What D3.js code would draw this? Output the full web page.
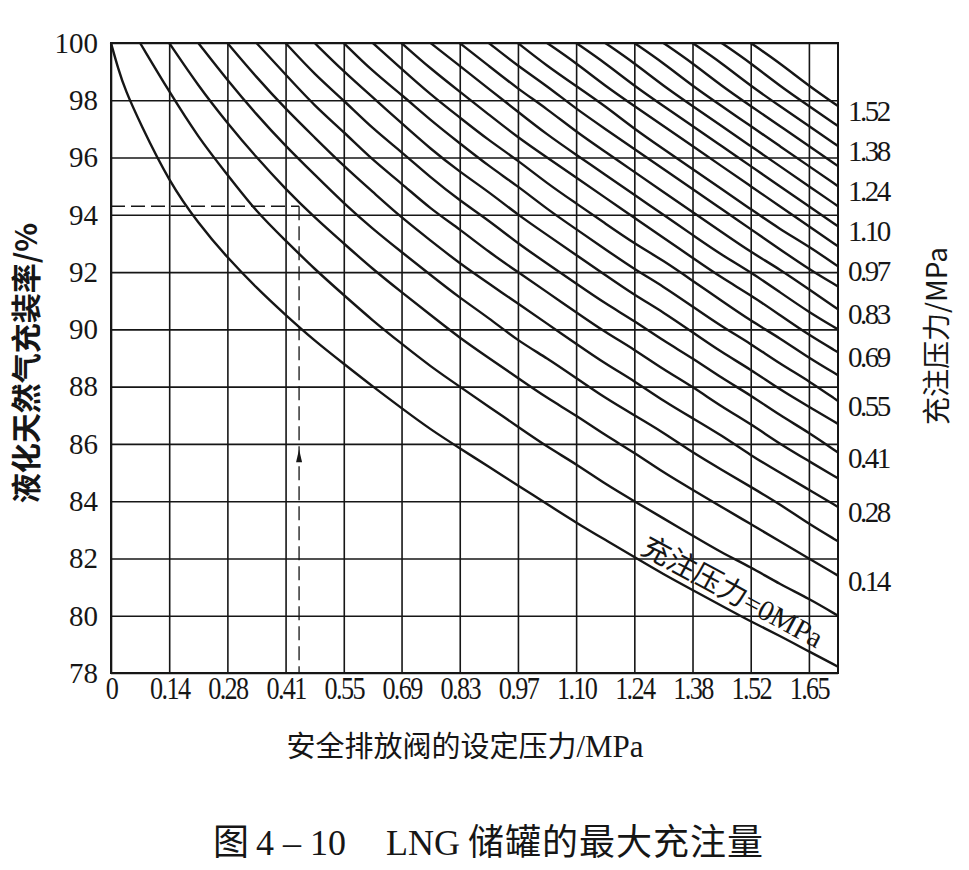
<!DOCTYPE html>
<html>
<head>
<meta charset="utf-8">
<script src="https://cdn.jsdelivr.net/npm/d3@7"></script>
<style>
  body { margin: 0; background: #fff; }
  svg { display: block; }
</style>
</head>
<body>
<svg id="chart" width="969" height="870"></svg>
<script>
/*************************
 *  data
 *************************/

// relief-valve setting grid, MPa (one step = 10 psi)
const reliefP = [0, 0.069, 0.138, 0.207, 0.276, 0.345, 0.414, 0.483, 0.552, 0.621, 0.689, 0.758, 0.827,
    0.896, 0.965, 1.034, 1.103, 1.172, 1.241, 1.310, 1.379, 1.448, 1.517, 1.586, 1.655, 1.724];

// fill pressure = 0 MPa curve (a couple of extra points near the start)
const zeroCurveP = [0, 0.017, 0.034, 0.069, 0.138, 0.207, 0.276, 0.345, 0.414, 0.483, 0.552, 0.621, 0.689, 0.758,
    0.827, 0.896, 0.965, 1.034, 1.103, 1.172, 1.241, 1.310, 1.379, 1.448, 1.517, 1.586, 1.655, 1.724];
const zeroCurveF = [100, 99.1, 98.35, 97.2, 95.15, 93.7, 92.5, 91.45, 90.5, 89.6, 88.8, 88.0, 87.25, 86.5,
    85.85, 85.2, 84.55, 83.9, 83.25, 82.65, 82.05, 81.45, 80.9, 80.35, 79.8, 79.3, 78.75, 78.22];

// curve k (k = 1..22) starts at reliefP[k], its fill pressure; values are % on the reliefP grid
const fillCurveF = [
    [100, 98.3, 96.7, 95.4, 94.1, 93.1, 92.1, 91.2, 90.3, 89.5, 88.7, 88.0, 87.3, 86.6, 85.9, 85.3, 84.6, 84.0, 83.4, 82.8, 82.2, 81.7, 81.1, 80.6, 80.0], // 0.07
    [100, 98.5, 97.2, 96.0, 94.9, 93.9, 93.0, 92.1, 91.3, 90.5, 89.7, 89.0, 88.3, 87.6, 87.0, 86.3, 85.7, 85.0, 84.4, 83.8, 83.2, 82.6, 82.0, 81.4],       // 0.14
    [100, 98.7, 97.5, 96.4, 95.4, 94.4, 93.5, 92.7, 91.9, 91.1, 90.4, 89.6, 89.0, 88.3, 87.6, 87.0, 86.4, 85.7, 85.1, 84.5, 83.9, 83.2, 82.6],
    [100, 98.8, 97.7, 96.7, 95.7, 94.8, 93.9, 93.1, 92.3, 91.6, 90.9, 90.2, 89.5, 88.8, 88.2, 87.5, 86.9, 86.3, 85.6, 85.0, 84.4, 83.8],             // 0.28
    [100, 98.9, 97.8, 96.9, 95.9, 95.1, 94.2, 93.5, 92.7, 92.0, 91.3, 90.6, 89.9, 89.3, 88.6, 88.0, 87.3, 86.7, 86.0, 85.4, 84.8],
    [100, 98.9, 98.0, 97.0, 96.2, 95.3, 94.5, 93.8, 93.0, 92.3, 91.6, 90.9, 90.3, 89.6, 89.0, 88.3, 87.7, 87.0, 86.4, 85.7],                         // 0.41
    [100, 99.0, 98.1, 97.2, 96.3, 95.5, 94.8, 94.0, 93.3, 92.6, 91.9, 91.2, 90.6, 89.9, 89.2, 88.6, 87.9, 87.3, 86.7],
    [100, 99.0, 98.2, 97.3, 96.5, 95.7, 95.0, 94.2, 93.5, 92.8, 92.1, 91.5, 90.8, 90.1, 89.5, 88.8, 88.2, 87.5],                                     // 0.55
    [100, 99.1, 98.2, 97.4, 96.6, 95.9, 95.1, 94.4, 93.7, 93.0, 92.4, 91.7, 91.0, 90.3, 89.7, 89.0, 88.4],
    [100, 99.1, 98.3, 97.5, 96.7, 96.0, 95.3, 94.6, 93.9, 93.2, 92.5, 91.8, 91.2, 90.5, 89.8, 89.2],                                                 // 0.69
    [100, 99.2, 98.4, 97.6, 96.8, 96.1, 95.4, 94.7, 94.0, 93.3, 92.6, 92.0, 91.3, 90.6, 90.0],
    [100, 99.2, 98.4, 97.7, 96.9, 96.2, 95.5, 94.8, 94.1, 93.4, 92.7, 92.1, 91.4, 90.7],                                                             // 0.83
    [100, 99.2, 98.5, 97.7, 97.0, 96.3, 95.6, 94.9, 94.2, 93.5, 92.8, 92.1, 91.5],
    [100, 99.2, 98.5, 97.8, 97.0, 96.3, 95.6, 94.9, 94.2, 93.5, 92.9, 92.2],                                                                         // 0.97
    [100, 99.3, 98.5, 97.8, 97.1, 96.4, 95.7, 95.0, 94.3, 93.6, 92.9],
    [100, 99.3, 98.5, 97.8, 97.1, 96.4, 95.7, 95.0, 94.3, 93.6],                                                                                     // 1.10
    [100, 99.3, 98.5, 97.8, 97.1, 96.4, 95.7, 95.0, 94.3],
    [100, 99.3, 98.5, 97.8, 97.1, 96.4, 95.7, 95.0],                                                                                                 // 1.24
    [100, 99.3, 98.5, 97.8, 97.1, 96.4, 95.7],
    [100, 99.3, 98.5, 97.8, 97.1, 96.4],                                                                                                             // 1.38
    [100, 99.3, 98.5, 97.8, 97.1],
    [100, 99.3, 98.5, 97.8]                                                                                                                          // 1.52
];

const xTickValues = [0, 0.138, 0.276, 0.414, 0.552, 0.689, 0.827, 0.965, 1.103, 1.241, 1.379, 1.517, 1.655];
const xTickLabels = ["0", "0.14", "0.28", "0.41", "0.55", "0.69", "0.83", "0.97", "1.10", "1.24", "1.38", "1.52", "1.65"];
const yTickValues = [78, 80, 82, 84, 86, 88, 90, 92, 94, 96, 98, 100];

// right hand labels: which curve (k) and its fill pressure text
const fillLabelIndex = [2, 4, 6, 8, 10, 12, 14, 16, 18, 20, 22];
const fillLabels = ["0.14", "0.28", "0.41", "0.55", "0.69", "0.83", "0.97", "1.10", "1.24", "1.38", "1.52"];

// worked example (dashed guide)
const exampleRelief = 0.446;
const exampleFill = 94.3;
const exampleArrowF = 85.5;

/*************************
 *  scales
 *************************/
const svg = d3.select('#chart');
svg.append('rect').attr('width', 969).attr('height', 870).attr('fill', '#fff');

const x = d3.scaleLinear().domain([0, 1.724]).range([111, 838]);
const y = d3.scaleLinear().domain([78, 100]).range([673, 43]);

const ink = '#161616';
const serif = "'Liberation Serif', 'Times New Roman', serif";
const cjk = "'Noto Sans CJK SC', sans-serif";

/*************************
 *  grid + tick labels
 *************************/
svg.append('g')
    .attr('transform', `translate(0,${y(78)})`)
    .call(d3.axisBottom(x)
        .tickValues(xTickValues)
        .tickFormat((d, i) => xTickLabels[i])
        .tickSize(-(y(78) - y(100)))
        .tickPadding(3))
    .call(g => g.select('.domain').remove())
    .call(g => g.selectAll('line').attr('stroke', ink).attr('stroke-width', 1.6))
    .call(g => g.selectAll('text')
        .attr('font-family', serif)
        .attr('font-size', 32)
        .attr('letter-spacing', '-2px')
        .attr('transform', 'scale(0.82,1)')
        .attr('fill', ink))

svg.append('g')
    .attr('transform', `translate(${x(0)},0)`)
    .call(d3.axisLeft(y)
        .tickValues(yTickValues)
        .tickFormat(d3.format('d'))
        .tickSize(-(x(1.724) - x(0)))
        .tickPadding(13))
    .call(g => g.select('.domain').remove())
    .call(g => g.selectAll('line').attr('stroke', ink).attr('stroke-width', 1.6))
    .call(g => g.selectAll('text')
        .attr('font-family', serif)
        .attr('font-size', 29)
        .attr('fill', ink))

svg.append('rect')
    .attr('x', x(0))
    .attr('y', y(100))
    .attr('width', x(1.724) - x(0))
    .attr('height', y(78) - y(100))
    .attr('fill', 'none')
    .attr('stroke', ink)
    .attr('stroke-width', 2)

/*************************
 *  curves
 *************************/
const line = d3.line()
    .x(d => x(d[0]))
    .y(d => y(d[1]))
    .curve(d3.curveBasis)

let curves = [d3.zip(zeroCurveP, zeroCurveF)]
    .concat(fillCurveF.map((vals, j) => d3.zip(reliefP.slice(j + 1), vals)))

svg.append('g')
    .attr('id', 'curveG')
    .selectAll('.fillCurve')
    .data(curves)
    .join('path')
        .attr('class', 'fillCurve')
        .attr('d', line)
        .attr('fill', 'none')
        .attr('stroke', ink)
        .attr('stroke-width', 2.4)
        .attr('stroke-linejoin', 'round')

// right hand fill-pressure labels, next to the end of each labelled curve
svg.append('g')
    .selectAll('text')
    .data(fillLabelIndex)
    .join('text')
        .attr('x', x(1.724) + 10)
        .attr('y', k => y(fillCurveF[k - 1][fillCurveF[k - 1].length - 1]) + 5)
        .attr('dominant-baseline', 'central')
        .attr('font-family', serif)
        .attr('font-size', 29)
        .attr('letter-spacing', '-2.5px')
        .attr('fill', ink)
        .text((k, i) => fillLabels[i])

// label along the 0 MPa curve
let p0 = [x(zeroCurveP[20]), y(zeroCurveF[20])];
let p1 = [x(zeroCurveP[26]), y(zeroCurveF[26])];
let ang = Math.atan2(p1[1] - p0[1], p1[0] - p0[0]) * 180 / Math.PI;

svg.append('text')
    .attr('transform', `translate(${p0[0]},${p0[1]}) rotate(${ang})`)
    .attr('x', 2)
    .attr('y', -6)
    .attr('font-family', `${serif}, ${cjk}`)
    .attr('font-size', 29)
    .attr('fill', ink)
    .text('充注压力=0MPa')

/*************************
 *  dashed worked example
 *************************/
let exG = svg.append('g')
    .attr('stroke', ink)
    .attr('stroke-width', 1.3)
    .attr('stroke-dasharray', '14,6')
    .attr('fill', 'none')

exG.append('line')
    .attr('x1', x(0)).attr('x2', x(exampleRelief))
    .attr('y1', y(exampleFill)).attr('y2', y(exampleFill))
exG.append('line')
    .attr('x1', x(exampleRelief)).attr('x2', x(exampleRelief))
    .attr('y1', y(exampleFill)).attr('y2', y(78))

let ax = x(exampleRelief), ay = y(exampleArrowF);
svg.append('path')
    .attr('d', `M${ax},${ay - 9} L${ax - 3},${ay + 4} L${ax + 3},${ay + 4} Z`)
    .attr('fill', ink)

/*************************
 *  titles
 *************************/
svg.append('text')
    .attr('transform', 'translate(24,363) rotate(-90)')
    .attr('text-anchor', 'middle')
    .attr('dominant-baseline', 'central')
    .attr('font-family', cjk)
    .attr('font-weight', 700)
    .attr('font-size', 30)
    .attr('fill', ink)
    .text('液化天然气充装率/%')

svg.append('text')
    .attr('transform', 'translate(935,336) rotate(-90)')
    .attr('text-anchor', 'middle')
    .attr('dominant-baseline', 'central')
    .attr('font-family', cjk)
    .attr('font-size', 28)
    .attr('fill', ink)
    .text('充注压力/MPa')

let xTitle = svg.append('text')
    .attr('x', 465)
    .attr('y', 757)
    .attr('text-anchor', 'middle')
    .attr('fill', ink)
xTitle.append('tspan').attr('font-family', cjk).attr('font-size', 29).text('安全排放阀的设定压力')
xTitle.append('tspan').attr('font-family', serif).attr('font-size', 31).text('/MPa')

let caption = svg.append('text')
    .attr('y', 855)
    .attr('font-family', `${serif}, ${cjk}`)
    .attr('font-size', 36)
    .attr('fill', ink)
caption.append('tspan').attr('x', 213).text('图')
caption.append('tspan').attr('x', 256).text('4 – 10')
caption.append('tspan').attr('x', 386).text('LNG')
caption.append('tspan').attr('x', 468).attr('letter-spacing', '1px').text('储罐的最大充注量')
</script>
</body>
</html>
